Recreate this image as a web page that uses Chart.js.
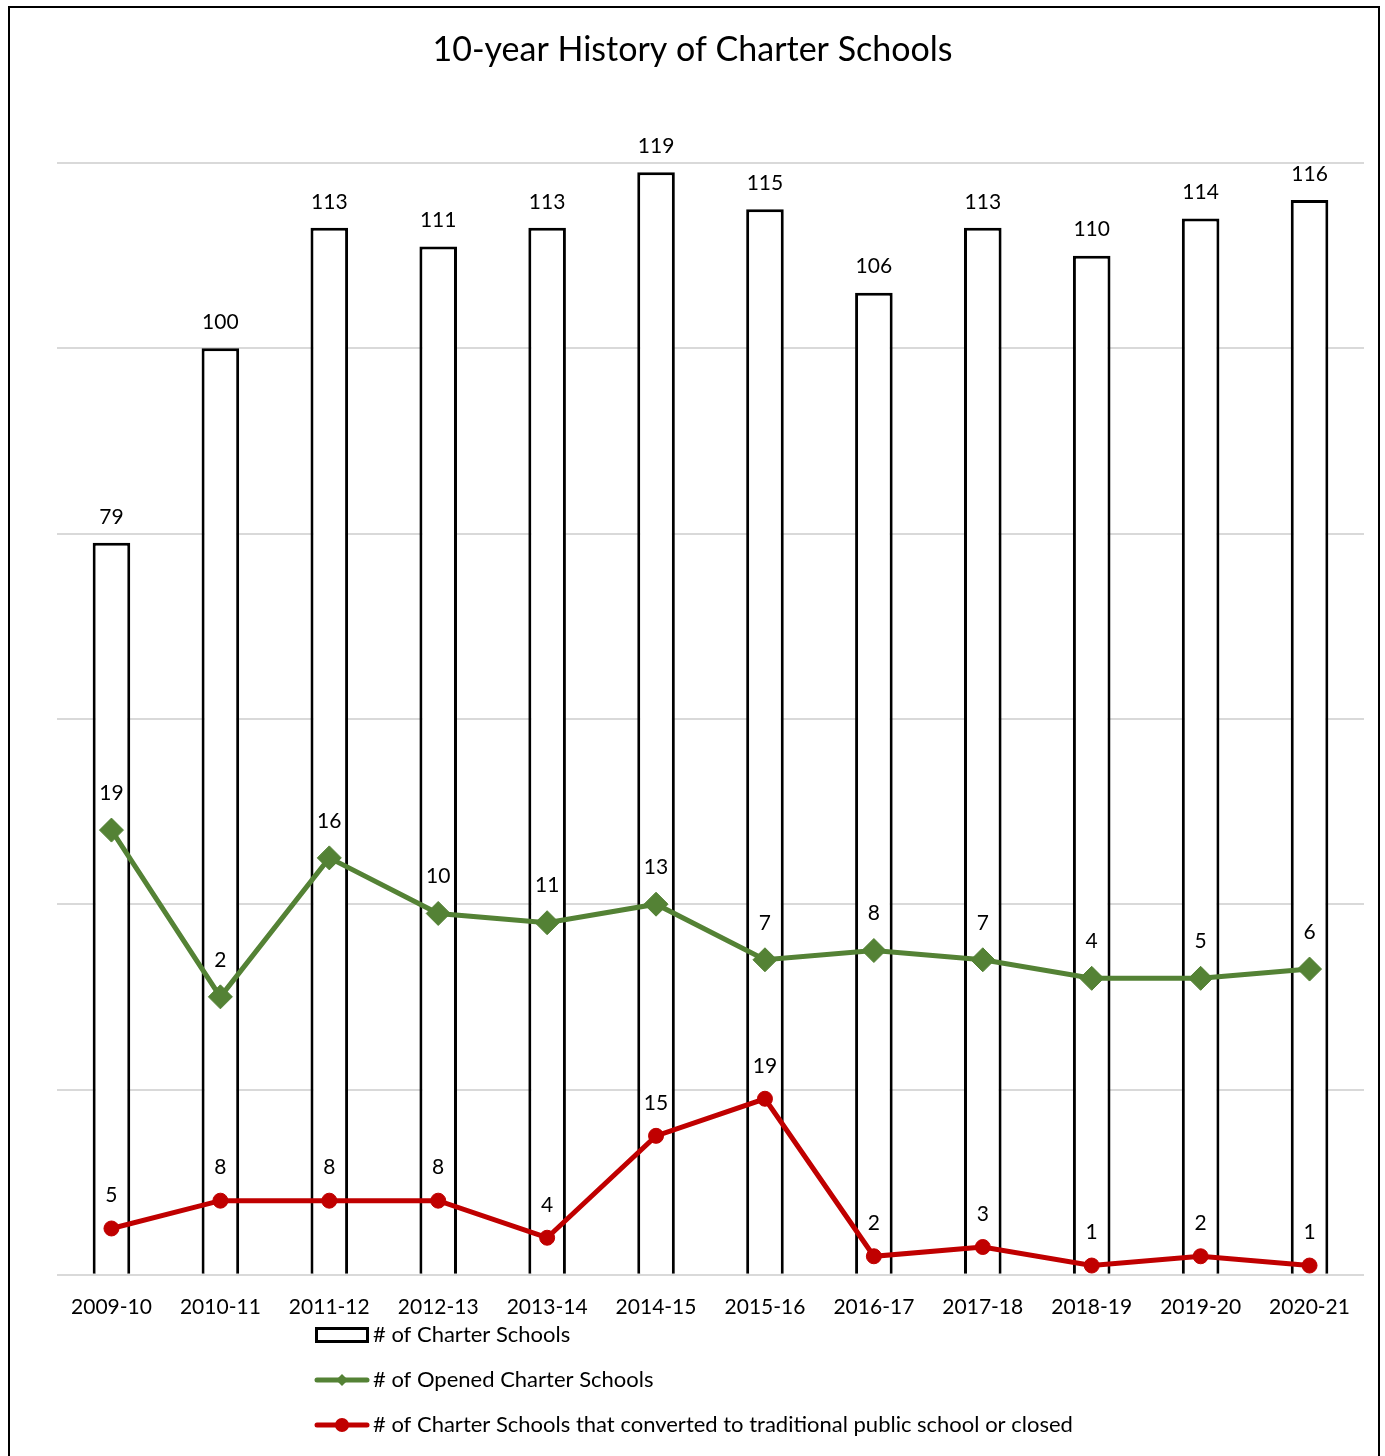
<!DOCTYPE html>
<html lang="en">

<head>
    <meta charset="UTF-8">
    <title>10-year History of Charter Schools</title>
    <script src="https://cdn.jsdelivr.net/npm/chart.js"></script>
    <style>
        body { margin: 0; background: #fff; }
        #wrap { width: 1385px; height: 1456px; }
    </style>
</head>

<body>
    <div id="wrap"><canvas id="charterChart" width="1385" height="1456"></canvas></div>

    <script>
        // school years
        const years = ['2009-10', '2010-11', '2011-12', '2012-13', '2013-14', '2014-15',
            '2015-16', '2016-17', '2017-18', '2018-19', '2019-20', '2020-21'];

        // total charter schools
        const totalSchools = [79, 100, 113, 111, 113, 119, 115, 106, 113, 110, 114, 116];

        // opened schools: where the line sits on the chart, and the labels it shows
        const openedPlotted = [48, 30, 45, 39, 38, 40, 34, 35, 34, 32, 32, 33];
        const openedLabels = [19, 2, 16, 10, 11, 13, 7, 8, 7, 4, 5, 6];

        // converted to traditional public school or closed
        const closedSchools = [5, 8, 8, 8, 4, 15, 19, 2, 3, 1, 2, 1];

        const yTicks = { min: 0, max: 120, step: 20 };

        const TITLE = '10-year History of Charter Schools';
        const FONT = 'Lato, "Noto Sans", sans-serif';
        const GREEN = '#548235';
        const RED = '#C00000';

        // frame and title
        const framePlugin = {
            id: 'frame',
            beforeDraw(chart) {
                const ctx = chart.ctx;
                ctx.save();
                ctx.strokeStyle = '#000';
                ctx.lineWidth = 2;
                ctx.strokeRect(9, 7, 1370, 1470);
                ctx.font = '34px ' + FONT;
                ctx.fillStyle = '#000';
                ctx.textAlign = 'center';
                ctx.textBaseline = 'middle';
                ctx.fillText(TITLE, chart.width / 2, 50);
                ctx.restore();
            }
        };

        // value labels above the marks
        const valueLabels = {
            id: 'valueLabels',
            afterDatasetsDraw(chart) {
                const ctx = chart.ctx;
                ctx.save();
                ctx.font = '21px ' + FONT;
                ctx.fillStyle = '#000';
                ctx.textAlign = 'center';
                ctx.textBaseline = 'middle';
                chart.data.datasets.forEach((ds, i) => {
                    const meta = chart.getDatasetMeta(i);
                    const texts = ds.labelTexts || ds.data;
                    meta.data.forEach((el, j) => {
                        ctx.fillText(String(texts[j]), el.x, el.y - ds.labelOffset);
                    });
                });
                ctx.restore();
            }
        };

        // vertical legend under the axis
        const sideLegend = {
            id: 'sideLegend',
            afterDraw(chart) {
                const ctx = chart.ctx;
                const x0 = 315, w = 54, textX = 373;
                const rows = [1335, 1380, 1425];
                ctx.save();
                ctx.font = '22px ' + FONT;
                ctx.textBaseline = 'middle';
                ctx.textAlign = 'left';
                chart.data.datasets.forEach((ds, i) => {
                    const y = rows[i];
                    if (ds.type === 'bar') {
                        ctx.fillStyle = '#fff';
                        ctx.fillRect(x0 + 1.5, y - 6.5, w - 3, 13);
                        ctx.strokeStyle = '#000';
                        ctx.lineWidth = 3;
                        ctx.strokeRect(x0 + 1.5, y - 6.5, w - 3, 13);
                    } else {
                        ctx.strokeStyle = ds.borderColor;
                        ctx.lineWidth = 5;
                        ctx.lineCap = 'round';
                        ctx.beginPath();
                        ctx.moveTo(x0 + 2, y);
                        ctx.lineTo(x0 + w - 2, y);
                        ctx.stroke();
                        ctx.fillStyle = ds.borderColor;
                        ctx.beginPath();
                        if (ds.pointStyle === 'rectRot') {
                            ctx.moveTo(x0 + w / 2, y - 6);
                            ctx.lineTo(x0 + w / 2 + 6, y);
                            ctx.lineTo(x0 + w / 2, y + 6);
                            ctx.lineTo(x0 + w / 2 - 6, y);
                        } else {
                            ctx.arc(x0 + w / 2, y, 7, 0, Math.PI * 2);
                        }
                        ctx.fill();
                    }
                    ctx.fillStyle = '#000';
                    ctx.fillText(ds.label, textX, y);
                });
                ctx.restore();
            }
        };

        const ctx = document.getElementById('charterChart').getContext('2d');
        new Chart(ctx, {
            data: {
                labels: years,
                datasets: [{
                    type: 'bar',
                    label: '# of Charter Schools',
                    data: totalSchools,
                    backgroundColor: '#fff',
                    borderColor: '#000',
                    borderWidth: 3,
                    borderSkipped: 'start',
                    barPercentage: 0.345,
                    categoryPercentage: 1,
                    labelOffset: 26,
                    order: 3
                }, {
                    type: 'line',
                    label: '# of Opened Charter Schools',
                    data: openedPlotted,
                    labelTexts: openedLabels,
                    borderColor: GREEN,
                    backgroundColor: GREEN,
                    borderWidth: 5,
                    pointStyle: 'rectRot',
                    pointRadius: 12,
                    pointBorderWidth: 1,
                    labelOffset: 37,
                    order: 1
                }, {
                    type: 'line',
                    label: '# of Charter Schools that converted to traditional public school or closed',
                    data: closedSchools,
                    borderColor: RED,
                    backgroundColor: RED,
                    borderWidth: 5,
                    pointStyle: 'circle',
                    pointRadius: 7.5,
                    pointBorderWidth: 1,
                    labelOffset: 33,
                    order: 2
                }]
            },
            options: {
                responsive: false,
                animation: false,
                layout: { padding: { left: 57, right: 21, top: 163, bottom: 116 } },
                plugins: {
                    legend: { display: false },
                    tooltip: { enabled: false }
                },
                scales: {
                    x: {
                        grid: { display: false, drawTicks: false },
                        border: { display: false },
                        ticks: { color: '#000', font: { family: FONT, size: 21 }, padding: 20, maxRotation: 0 }
                    },
                    y: {
                        min: yTicks.min,
                        max: yTicks.max,
                        grid: { color: '#d9d9d9', lineWidth: 2, drawTicks: false },
                        border: { display: false },
                        ticks: { display: false, stepSize: yTicks.step }
                    }
                }
            },
            plugins: [framePlugin, valueLabels, sideLegend]
        });
    </script>
</body>

</html>
